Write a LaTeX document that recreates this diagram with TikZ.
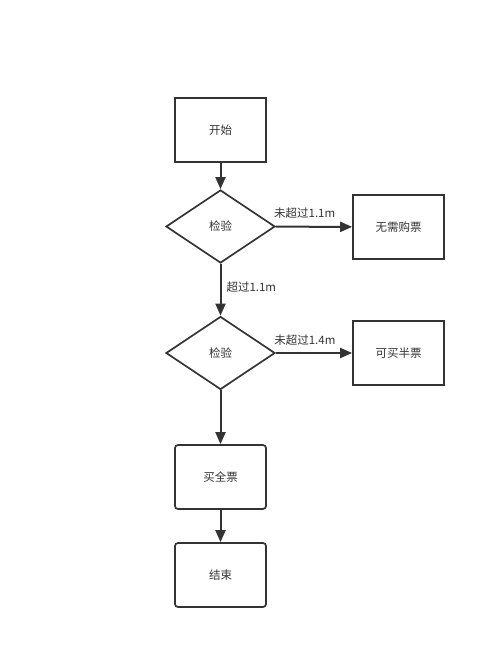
\documentclass[tikz,border=0pt]{standalone}
\usepackage{fontspec}
\setmainfont{Noto Sans CJK SC}
\usetikzlibrary{shapes.geometric,arrows.meta}
\definecolor{lc}{HTML}{333333}
\tikzset{
  x=1pt,y=-1pt,
  every node/.style={font=\fontsize{11.5}{13}\selectfont, text=lc},
  boxsq/.style={draw=lc, line width=1.7pt, minimum width=91pt, minimum height=64pt, inner sep=0pt},
  boxrd/.style={boxsq, rounded corners=3pt},
  dec/.style={draw=lc, line width=1.7pt, diamond, aspect=1.5, minimum width=109pt, minimum height=73pt, inner sep=0pt},
  arr/.style={draw=lc, line width=2pt, -{Triangle[length=12pt,width=10pt]}},
  lbl/.style={font=\fontsize{11.5}{13}\selectfont, inner sep=0pt}
}
\begin{document}
\begin{tikzpicture}
\useasboundingbox (0,0) rectangle (500,663);
\node[boxsq] (start) at (220.5,130) {开始};
\node[dec] (d1) at (220.5,226.5) {检验};
\node[boxsq] (free) at (398.5,227) {无需购票};
\node[dec] (d2) at (220.5,353) {检验};
\node[boxsq] (half) at (398.5,353) {可买半票};
\node[boxrd] (full) at (220.5,477) {买全票};
\node[boxrd] (end) at (220.5,575) {结束};
\draw[arr] (start) -- (d1);
\draw[arr] (d1) -- (free) node[lbl, pos=0.38, above=7pt] {未超过1.1m};
\draw[arr] (d1) -- (d2) node[lbl, pos=0.45, right=5pt] {超过1.1m};
\draw[arr] (d2) -- (half) node[lbl, pos=0.38, above=7pt] {未超过1.4m};
\draw[arr] (d2) -- (full);
\draw[arr] (full) -- (end);
\end{tikzpicture}
\end{document}
